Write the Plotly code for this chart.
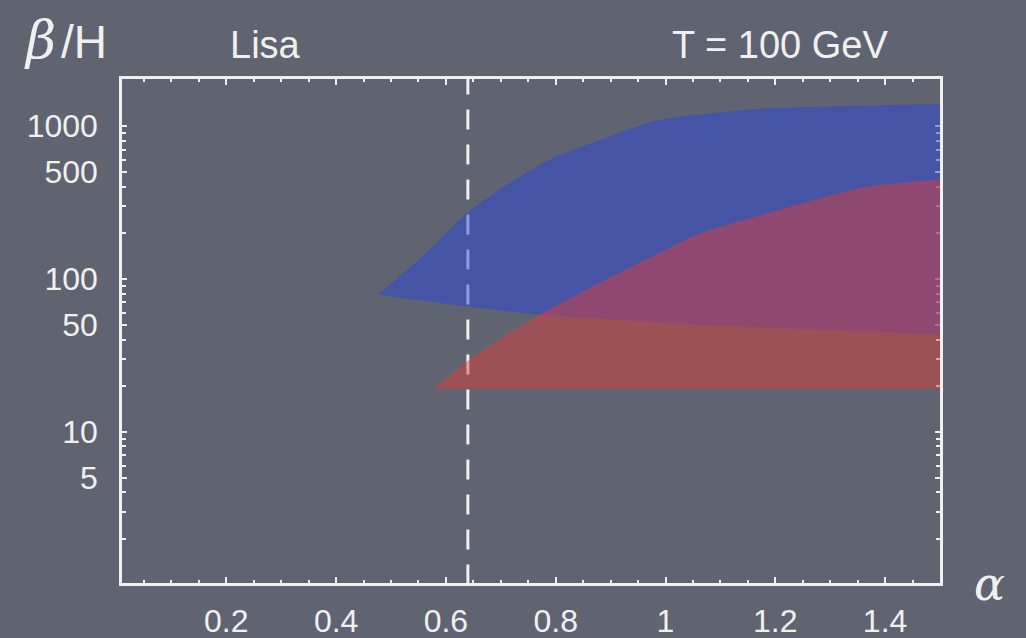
import plotly.graph_objects as go

# ---- data ----
alpha_cut = 0.64  # dashed vertical line

blue_upper_x = [0.476, 0.564, 0.638, 0.715, 0.794, 0.897, 0.988, 1.168, 1.326, 1.5]
blue_upper_y = [78.5, 147, 268, 422, 615, 851, 1094, 1291, 1352, 1393]
blue_lower_x = [0.476, 0.638, 0.770, 1.051, 1.364, 1.5]
blue_lower_y = [78.5, 65.8, 58, 50, 45, 43]

red_upper_x = [0.576, 0.638, 0.715, 0.770, 0.867, 0.988, 1.066, 1.208, 1.364, 1.5]
red_upper_y = [19, 28.7, 44, 58, 89, 147, 200, 283, 399, 444]
red_lower_x = [0.576, 1.5]
red_lower_y = [19, 19]

x_ticks = [0.2, 0.4, 0.6, 0.8, 1.0, 1.2, 1.4]
x_tick_text = ["0.2", "0.4", "0.6", "0.8", "1", "1.2", "1.4"]
y_ticks = [5, 10, 50, 100, 500, 1000]
y_tick_text = ["5", "10", "50", "100", "500", "1000"]
y_minor = [m * 10 ** k for k in range(0, 4) for m in range(2, 10)]

BG = "rgb(95,100,112)"
WHITE = "rgb(240,240,240)"
SANS = "Liberation Sans, Arial, sans-serif"
SERIF = "DejaVu Serif, Liberation Serif, serif"

fig = go.Figure()

# dashed line (drawn first so fills sit on top of it)
fig.add_trace(go.Scatter(
    x=[alpha_cut, alpha_cut], y=[1, 2100], mode="lines",
    line=dict(color=WHITE, width=3, dash="20px,15px"),
    hoverinfo="skip", showlegend=False))

# blue region: lower edge, then upper edge filled down to it
fig.add_trace(go.Scatter(
    x=blue_lower_x, y=blue_lower_y, mode="lines",
    line=dict(width=0), showlegend=False, hoverinfo="skip"))
fig.add_trace(go.Scatter(
    x=blue_upper_x, y=blue_upper_y, mode="lines", fill="tonexty",
    line=dict(width=0, shape="spline", smoothing=0.6),
    fillcolor="rgba(45,68,218,0.5)", showlegend=False, hoverinfo="skip"))

# red region
fig.add_trace(go.Scatter(
    x=red_lower_x, y=red_lower_y, mode="lines",
    line=dict(width=0), showlegend=False, hoverinfo="skip"))
fig.add_trace(go.Scatter(
    x=red_upper_x, y=red_upper_y, mode="lines", fill="tonexty",
    line=dict(width=0, shape="spline", smoothing=0.6),
    fillcolor="rgba(226,62,56,0.47)", showlegend=False, hoverinfo="skip"))

tickfont = dict(family=SANS, size=32, color=WHITE)

fig.update_xaxes(
    range=[0.01, 1.5], showgrid=False, zeroline=False, automargin=False,
    showline=True, linecolor=WHITE, linewidth=2.5, mirror="ticks",
    ticks="inside", ticklen=6, tickwidth=2, tickcolor=WHITE,
    tickvals=x_ticks, ticktext=x_tick_text, tickfont=tickfont,
    ticklabelstandoff=8, layer="below traces",
    minor=dict(ticks="inside", ticklen=3, tickwidth=2, tickcolor=WHITE,
               dtick=0.05, tick0=0))

fig.update_yaxes(
    type="log", range=[0.01, 3.307], showgrid=False, zeroline=False, automargin=False,
    showline=True, linecolor=WHITE, linewidth=2.5, mirror="ticks",
    ticks="inside", ticklen=5, tickwidth=2, tickcolor=WHITE,
    tickvals=y_ticks, ticktext=y_tick_text, tickfont=tickfont,
    ticklabelstandoff=15, layer="below traces",
    minor=dict(ticks="inside", ticklen=4, tickwidth=2, tickcolor=WHITE,
               tickvals=y_minor))

# plot area in pixels: x 122..940, y 79..583
def px(xp):
    return (xp - 122) / 818.0

def py(yp):
    return (583 - yp) / 504.0

annotations = [
    dict(x=px(265), y=py(45), text="Lisa",
         font=dict(family=SANS, size=38, color=WHITE)),
    dict(x=px(780), y=py(45), text="T = 100 GeV",
         font=dict(family=SANS, size=38, color=WHITE)),
    dict(x=px(40), y=py(40), text="<i>β</i>",
         font=dict(family=SERIF, size=52, color=WHITE)),
    dict(x=px(84), y=py(42), text="/H",
         font=dict(family=SANS, size=46, color=WHITE)),
    dict(x=px(990), y=py(584), text="<i>α</i>",
         font=dict(family=SERIF, size=46, color=WHITE)),
]
for a in annotations:
    a.update(xref="paper", yref="paper", showarrow=False,
             xanchor="center", yanchor="middle")

fig.update_layout(
    width=1026, height=638,
    margin=dict(l=122, r=86, t=79, b=55, autoexpand=False),
    paper_bgcolor=BG, plot_bgcolor=BG,
    annotations=annotations,
)

fig.write_html("out.html")
